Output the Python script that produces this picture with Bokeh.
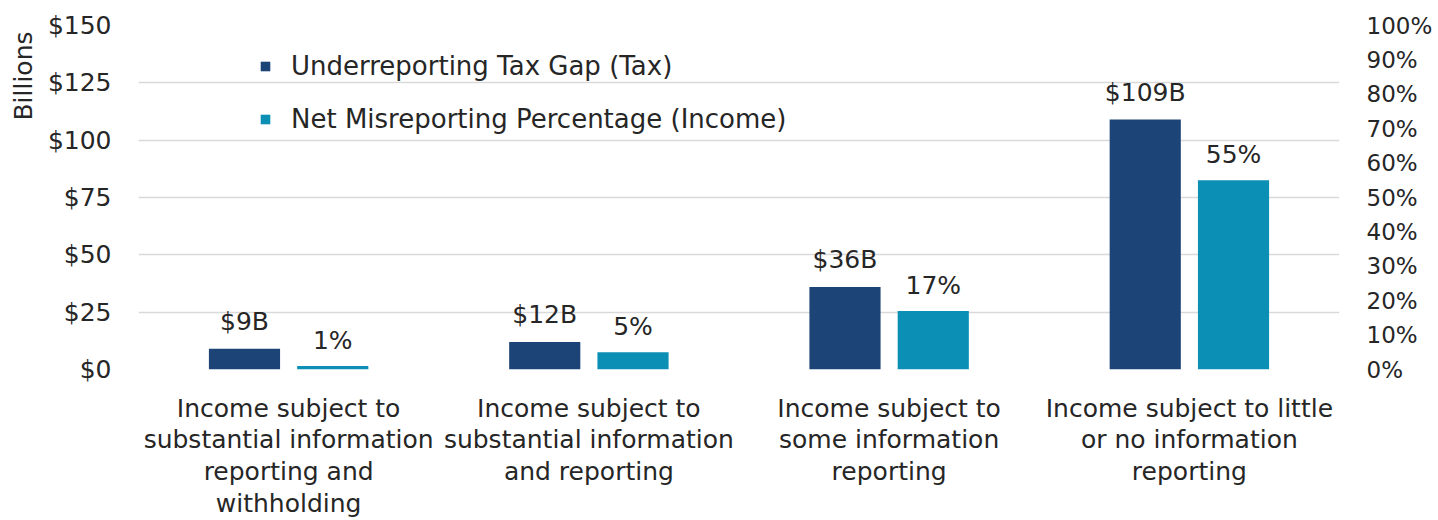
from bokeh.plotting import figure
from bokeh.models import (ColumnDataSource, FactorRange, Range1d, LinearAxis, SingleIntervalTicker,
                          PrintfTickFormatter, Legend, LegendItem, Title)
from bokeh.transform import dodge
from bokeh.embed import file_html
from bokeh.resources import INLINE
from bokeh.core.properties import value

categories = [
    "Income subject to\nsubstantial information\nreporting and\nwithholding",
    "Income subject to\nsubstantial information\nand reporting",
    "Income subject to\nsome information\nreporting",
    "Income subject to little\nor no information\nreporting",
]
tax_gap = [9, 12, 36, 109]          # $ billions
misreport_pct = [1, 5, 17, 55]      # percent
tax_labels = ["$9B", "$12B", "$36B", "$109B"]
pct_labels = ["1%", "5%", "17%", "55%"]

FONT = "DejaVu Sans"
FS = "25px"
TXT = "#262626"
DARK = "#1c4477"
TEAL = "#0c8fb5"

src = ColumnDataSource(dict(cat=categories, tax=tax_gap, pct=misreport_pct,
                            tl=tax_labels, pl=pct_labels))

p = figure(x_range=FactorRange(factors=categories, range_padding=0),
           y_range=Range1d(0, 150),
           frame_width=1201, frame_height=344,
           min_border_left=137, min_border_right=100, min_border_top=25, min_border_bottom=151,
           output_backend="svg", toolbar_location=None)
p.extra_y_ranges = {"pct": Range1d(0, 100)}

off = 0.147
bw = 0.237
r1 = p.vbar(x=dodge("cat", -off, range=p.x_range), top="tax", width=bw, source=src,
            color=DARK, line_color=None)
r2 = p.vbar(x=dodge("cat", off, range=p.x_range), top="pct", width=bw, source=src,
            color=TEAL, line_color=None, y_range_name="pct")

p.text(x=dodge("cat", -off, range=p.x_range), y="tax", text="tl", source=src,
       text_align="center", text_baseline="alphabetic", y_offset=-27,
       text_font=value(FONT), text_font_size=FS, text_color=TXT)
p.text(x=dodge("cat", off, range=p.x_range), y="pct", text="pl", source=src,
       text_align="center", text_baseline="alphabetic", y_offset=-26, y_range_name="pct",
       text_font=value(FONT), text_font_size=FS, text_color=TXT)

# axes
p.yaxis.ticker = SingleIntervalTicker(interval=25)
p.yaxis.formatter = PrintfTickFormatter(format="$%d")
right = LinearAxis(y_range_name="pct", ticker=SingleIntervalTicker(interval=10),
                   formatter=PrintfTickFormatter(format="%d%%"))
p.add_layout(right, "right")

for ax in [p.yaxis[0], right]:
    ax.axis_line_color = None
    ax.major_tick_line_color = None
    ax.minor_tick_line_color = None
    ax.major_label_text_font = FONT
    ax.major_label_text_color = TXT
p.yaxis[0].major_label_text_font_size = FS
right.major_label_text_font_size = "23px"
p.yaxis[0].major_label_standoff = 21
right.major_label_standoff = 21

p.xaxis.axis_line_color = None
p.xaxis.major_tick_line_color = None
p.xaxis.minor_tick_line_color = None
p.xaxis.major_label_text_font = FONT
p.xaxis.major_label_text_font_size = FS
p.xaxis.major_label_text_color = TXT
p.xaxis.major_label_standoff = 18
p.xaxis.major_label_text_line_height = 1.1

p.xgrid.grid_line_color = None
p.ygrid.grid_line_color = "#d9d9d9"
p.ygrid.grid_line_width = 1.5
p.outline_line_color = None

legend = Legend(items=[LegendItem(label="Underreporting Tax Gap (Tax)", renderers=[r1]),
                       LegendItem(label="Net Misreporting Percentage (Income)", renderers=[r2])],
                location=(121, 235), glyph_width=12, glyph_height=12, label_standoff=20,
                label_height=22, spacing=23, padding=0, margin=0,
                border_line_color=None, background_fill_alpha=0,
                label_text_font=FONT, label_text_font_size="26px", label_text_color=TXT)
p.add_layout(legend)

p.add_layout(Title(text="Billions", align="right", offset=6, text_font=FONT,
                   text_font_size="25px", text_font_style="normal", text_color=TXT,
                   standoff=13), "left")

open("out.html", "w").write(file_html(p, INLINE))
